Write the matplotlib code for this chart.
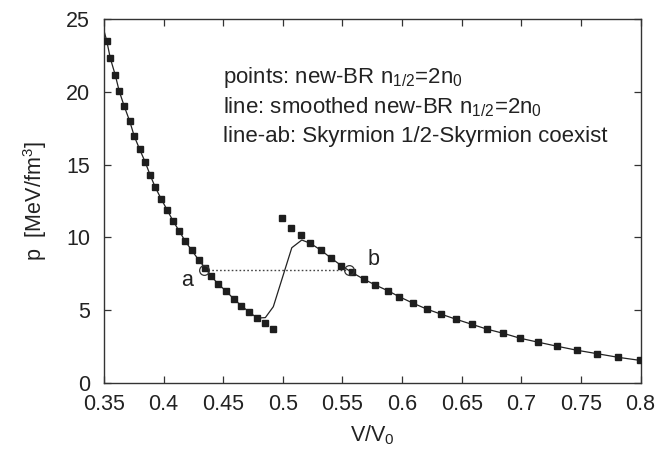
import matplotlib
matplotlib.use("Agg")
import matplotlib.pyplot as plt

plt.rcParams["font.family"] = ["Liberation Sans", "DejaVu Sans"]
plt.rcParams["mathtext.fontset"] = "custom"
plt.rcParams["mathtext.rm"] = "Liberation Sans"
plt.rcParams["mathtext.it"] = "Liberation Sans"

# new-BR points, low-V branch
left_v = [0.3523, 0.3553, 0.3595, 0.3628, 0.3670, 0.3716, 0.3754, 0.3799, 0.3846,
          0.3888, 0.3930, 0.3981, 0.4031, 0.4081, 0.4132, 0.4182, 0.4236, 0.4294,
          0.4350, 0.4398, 0.4459, 0.4526, 0.4588, 0.4652, 0.4719, 0.4786, 0.4853,
          0.4920]
left_p = [23.49, 22.30, 21.13, 20.03, 19.00, 17.97, 16.94, 16.05, 15.16,
          14.26, 13.44, 12.62, 11.86, 11.10, 10.42, 9.73, 9.11, 8.45,
          7.88, 7.35, 6.78, 6.30, 5.77, 5.31, 4.86, 4.46, 4.10,
          3.68]

# new-BR points, high-V branch
right_v = [0.4996, 0.5069, 0.5155, 0.5231, 0.5318, 0.5407, 0.5491, 0.5578, 0.5681,
           0.5776, 0.5885, 0.5975, 0.6095, 0.6212, 0.6330, 0.6456, 0.6585, 0.6716,
           0.6850, 0.6992, 0.7143, 0.7303, 0.7466, 0.7638, 0.7815, 0.7999]
right_p = [11.31, 10.67, 10.14, 9.59, 9.13, 8.56, 8.06, 7.60, 7.12,
           6.73, 6.32, 5.93, 5.47, 5.06, 4.72, 4.37, 4.03, 3.69,
           3.41, 3.07, 2.80, 2.52, 2.25, 2.01, 1.76, 1.55]

# smoothed curve
line_v = [0.3503, 0.3523, 0.3553, 0.3595, 0.3628, 0.3670, 0.3716, 0.3754, 0.3799,
          0.3846, 0.3888, 0.3930, 0.3981, 0.4031, 0.4081, 0.4132, 0.4182, 0.4236,
          0.4294, 0.4350, 0.4398, 0.4459, 0.4526, 0.4588, 0.4652, 0.4719, 0.4786,
          0.4853, 0.4920, 0.5075, 0.5159, 0.5231, 0.5318, 0.5407, 0.5491, 0.5578,
          0.5681, 0.5776, 0.5885, 0.5975, 0.6095, 0.6212, 0.6330, 0.6456, 0.6585,
          0.6716, 0.6850, 0.6992, 0.7143, 0.7303, 0.7466, 0.7638, 0.7815, 0.7999]
line_p = [24.10, 23.49, 22.30, 21.13, 20.03, 19.00, 17.97, 16.94, 16.05,
          15.16, 14.26, 13.44, 12.62, 11.86, 11.10, 10.42, 9.73, 9.11,
          8.45, 7.88, 7.35, 6.78, 6.30, 5.77, 5.31, 4.86, 4.46,
          4.49, 5.24, 9.29, 9.82, 9.59, 9.13, 8.56, 8.06, 7.60,
          7.12, 6.73, 6.32, 5.93, 5.47, 5.06, 4.72, 4.37, 4.03,
          3.69, 3.41, 3.07, 2.80, 2.52, 2.25, 2.01, 1.76, 1.55]

# coexistence line a-b
ab_v = [0.4339, 0.5555]
ab_p = [7.76, 7.76]
ab_labels = ["a", "b"]
ab_label_v = [0.4194, 0.5760]
ab_label_p = [7.07, 8.45]

legend_lines = [r"points: new-BR n$_{1/2}$=2n$_0$",
                r"line: smoothed new-BR n$_{1/2}$=2n$_0$",
                r"line-ab: Skyrmion 1/2-Skyrmion coexist"]

fig = plt.figure(figsize=(6.6, 4.49), dpi=100)
ax = fig.add_axes([0.1576, 0.147, 0.8129, 0.8107])

ax.plot(line_v, line_p, color="#222222", lw=0.9, zorder=2)
ax.plot(left_v, left_p, ls="none", marker="s", ms=5.0, color="#1e1e1e", zorder=3)
ax.plot(right_v, right_p, ls="none", marker="s", ms=5.0, color="#1e1e1e", zorder=3)
ax.plot(ab_v, ab_p, color="#444444", lw=1.0, ls=(0, (1.2, 1.6)), zorder=2)
ax.plot(ab_v, ab_p, ls="none", marker="o", ms=7, mfc="none", mec="#333333",
        mew=0.9, zorder=4)

for lab, xv, yv in zip(ab_labels, ab_label_v, ab_label_p):
    ax.text(xv, yv, lab, fontsize=15.5, ha="center", va="center", color="#222222")

for i, s in enumerate(legend_lines):
    ax.text(0.4495, 20.58 - 2.03 * i, s, fontsize=16, va="baseline", color="#222222")

ax.set_xlim(0.35, 0.8)
ax.set_ylim(0, 25)
ax.set_xticks([0.35, 0.4, 0.45, 0.5, 0.55, 0.6, 0.65, 0.7, 0.75, 0.8])
ax.set_xticklabels(["0.35", "0.4", "0.45", "0.5", "0.55", "0.6", "0.65", "0.7", "0.75", "0.8"])
ax.set_yticks([0, 5, 10, 15, 20, 25])
ax.tick_params(direction="in", top=True, right=True, length=5, width=0.9,
               labelsize=15.5, colors="#333333", labelcolor="#222222")
ax.tick_params(axis="y", pad=10)
ax.tick_params(axis="x", pad=8)
for sp in ax.spines.values():
    sp.set_color("#333333")
    sp.set_linewidth(1.0)

ax.set_xlabel(r"V/V$_0$", fontsize=15.5, color="#222222", labelpad=6)
ax.set_ylabel(r"p  [MeV/fm$^3$]", fontsize=15.5, color="#222222", labelpad=12)

fig.savefig("out.png", dpi=100)
